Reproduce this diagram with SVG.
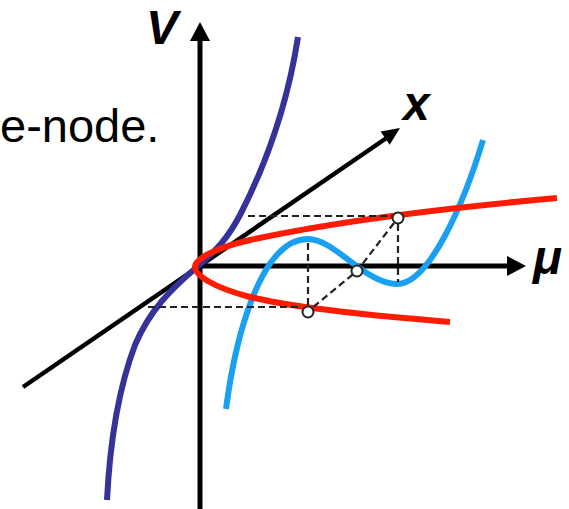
<svg xmlns="http://www.w3.org/2000/svg" width="569" height="509" viewBox="0 0 569 509">
<style>
.axis{stroke:#000;stroke-width:5;fill:none}
.curve{fill:none;stroke-width:6;stroke-linecap:butt}
.dash{fill:none;stroke:#222;stroke-width:2.2;stroke-dasharray:7,4}
.pt{fill:#fff;stroke:#222;stroke-width:2}
.lbl{font-family:"Liberation Sans",Arial,sans-serif;font-weight:bold;font-style:italic;font-size:48px;fill:#000}
.txt{font-family:"Liberation Sans",Arial,sans-serif;font-size:47px;fill:#000}
</style>
<rect width="569" height="509" fill="#fff"/>
<text class="txt" x="0" y="142">e-node.</text>
<g id="axes">
  <g id="axis-V">
    <line class="axis" x1="200" y1="509" x2="200" y2="38"/>
    <polygon points="200,22 190,41 210,41" fill="#000"/>
    <text class="lbl" x="146" y="44">V</text>
  </g>
  <g id="axis-mu">
    <line class="axis" x1="200" y1="266" x2="510" y2="266"/>
    <polygon points="526,266 507,256 507,276" fill="#000"/>
    <text class="lbl" x="533" y="274">μ</text>
  </g>
  <g id="axis-x">
    <line class="axis" style="stroke-width:4.5" x1="23" y1="387" x2="388" y2="137"/>
    <polygon points="400,128 389.7,144.8 380.6,131.6" fill="#000"/>
    <text class="lbl" x="403" y="120">x</text>
  </g>
</g>
<g id="curves">
  <path id="curve-dark" class="curve" stroke="#333399" d="M107,500 C110,440 118,390 135,345 C150,310 170,290 197,267 C215,252 228,238 240,215 C258,180 285,120 298,37"/>
  <path id="curve-light" class="curve" stroke="#1aa0f2" d="M226,409 C235,340 260,239 308,239 C335,239 365,284 397,284 C430,284 465,200 483,140"/>
  <path id="curve-red" class="curve" stroke="#ff1a00" d="M557,198 C400,212 300,229 250,240 C215,248 195,259 195,267 C195,275 212,287 250,297 C300,309 380,316 450,322"/>
</g>
<g id="connectors">
  <line class="dash" x1="248" y1="216" x2="392" y2="216"/>
  <line class="dash" x1="398" y1="224" x2="398" y2="282"/>
  <polyline class="dash" points="394,223 357,271 312,308"/>
  <line class="dash" x1="308" y1="243" x2="308" y2="306"/>
  <line class="dash" x1="148" y1="307" x2="302" y2="307"/>
</g>
<g id="points">
  <circle class="pt" cx="398" cy="218" r="5.5"/>
  <circle class="pt" cx="357" cy="271" r="5.5"/>
  <circle class="pt" cx="308" cy="312" r="5.5"/>
</g>
</svg>
